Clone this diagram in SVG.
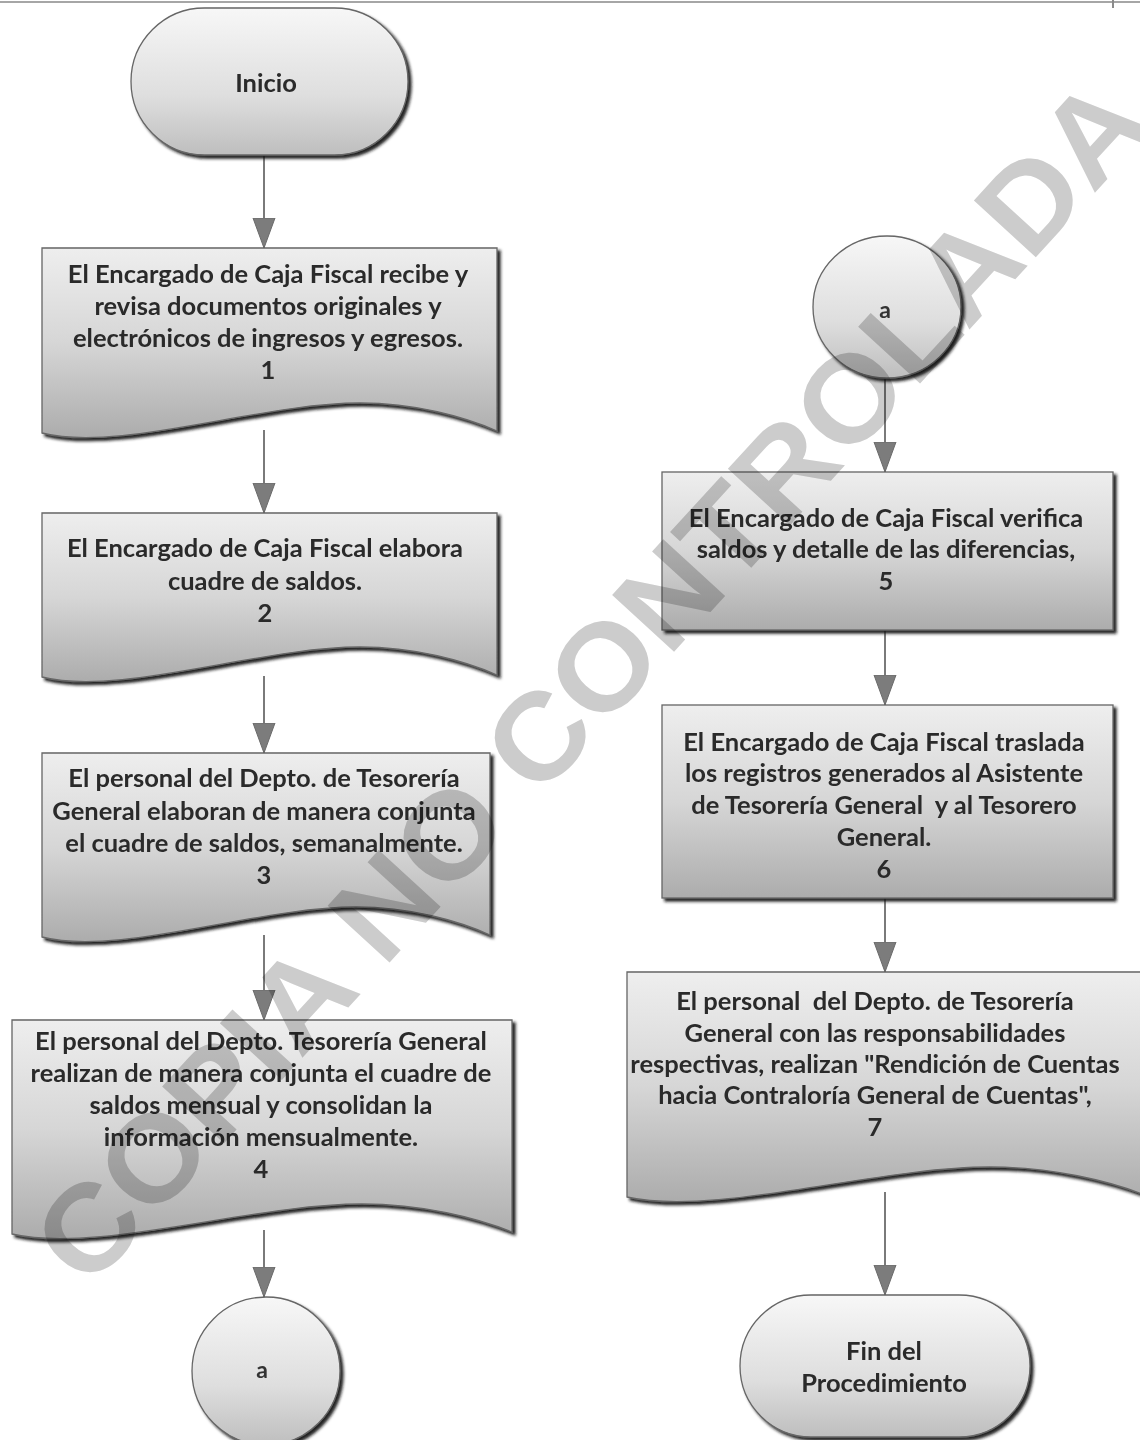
<svg xmlns="http://www.w3.org/2000/svg" width="1140" height="1440" viewBox="0 0 1140 1440">
  <defs>
    <style>
      .shape { stroke: #666666; stroke-width: 1.3; filter: url(#shadow); }
      .doc { fill: url(#gBox); }
      .proc { fill: url(#gBox); }
      .term { fill: url(#gTerm); }
      .conn { fill: url(#gTerm); }
      .lbl { font-family: "Lato", "Liberation Sans", sans-serif; font-weight: 700; font-size: 25.5px; fill: #2a2a2a; text-anchor: middle; white-space: pre; }
      .small { font-family: "Lato", "Liberation Sans", sans-serif; font-weight: 700; font-size: 23px; fill: #333333; text-anchor: middle; }
      .edge { stroke: #7a7a7a; stroke-width: 2; fill: none; marker-end: url(#arrow); }
      .wm { font-family: "Liberation Sans", "DejaVu Sans", sans-serif; font-weight: 700; font-size: 122px; fill: #cccccc; text-anchor: middle; mix-blend-mode: multiply; }
    </style>
    <linearGradient id="gBox" x1="0" y1="0" x2="0" y2="1">
      <stop offset="0" stop-color="#eeeeee"/>
      <stop offset="0.5" stop-color="#d6d6d6"/>
      <stop offset="1" stop-color="#acacac"/>
    </linearGradient>
    <linearGradient id="gTerm" x1="0" y1="0" x2="0" y2="1">
      <stop offset="0" stop-color="#f7f7f7"/>
      <stop offset="0.6" stop-color="#dedede"/>
      <stop offset="1" stop-color="#bebebe"/>
    </linearGradient>
    <filter id="shadow" x="-5%" y="-5%" width="115%" height="120%">
      <feGaussianBlur in="SourceAlpha" stdDeviation="1.6"/>
      <feOffset dx="3" dy="3" result="off"/>
      <feFlood flood-color="#151515" flood-opacity="0.95"/>
      <feComposite in2="off" operator="in"/>
      <feMerge>
        <feMergeNode/>
        <feMergeNode in="SourceGraphic"/>
      </feMerge>
    </filter>
    <marker id="arrow" markerUnits="userSpaceOnUse" viewBox="0 -12 31 24" refX="30" refY="0" markerWidth="31" markerHeight="24" orient="auto">
      <path d="M0,-11 L30,0 L0,11 Z" fill="#7c7c7c" stroke="#6a6a6a" stroke-width="1"/>
    </marker>
  </defs>

  <rect x="0" y="0" width="1140" height="1440" fill="#ffffff"/>
  <!-- page frame line -->
  <line x1="0" y1="2" x2="1140" y2="2" stroke="#a6a6a6" stroke-width="2"/>
  <line x1="1113" y1="0" x2="1113" y2="8" stroke="#8a8a8a" stroke-width="2"/>

  <!-- connectors -->
  <g id="connectors">
    <line class="edge" x1="264" y1="155" x2="264" y2="248"/>
    <line class="edge" x1="264" y1="430" x2="264" y2="513"/>
    <line class="edge" x1="264" y1="676" x2="264" y2="753"/>
    <line class="edge" x1="264" y1="935" x2="264" y2="1020"/>
    <line class="edge" x1="264" y1="1230" x2="264" y2="1297"/>
    <line class="edge" x1="885" y1="377" x2="885" y2="472"/>
    <line class="edge" x1="885" y1="630" x2="885" y2="705"/>
    <line class="edge" x1="885" y1="898" x2="885" y2="972"/>
    <line class="edge" x1="885" y1="1192" x2="885" y2="1295"/>
  </g>

  <!-- start terminator -->
  <g id="inicio">
    <rect class="shape term" x="131" y="8" width="277" height="147" rx="73.5" ry="73.5"/>
    <text class="lbl" x="266" y="92">Inicio</text>
  </g>

  <!-- step 1: document -->
  <g id="paso-1">
    <path class="shape doc" d="M42,248 H497 V431 C465,417 415,403 360,403 C260,403 119,453 42,433 Z"/>
    <text class="lbl" x="268" y="283">El Encargado de Caja Fiscal recibe y</text>
    <text class="lbl" x="268" y="315">revisa documentos originales y</text>
    <text class="lbl" x="268" y="347">electrónicos de ingresos y egresos.</text>
    <text class="lbl" x="268" y="379">1</text>
  </g>

  <!-- step 2: document -->
  <g id="paso-2">
    <path class="shape doc" d="M42,513 H497 V675 C465,661 415,647 360,647 C260,647 119,697 42,677 Z"/>
    <text class="lbl" x="265" y="557">El Encargado de Caja Fiscal elabora</text>
    <text class="lbl" x="265" y="590">cuadre de saldos.</text>
    <text class="lbl" x="265" y="622">2</text>
  </g>

  <!-- step 3: document -->
  <g id="paso-3">
    <path class="shape doc" d="M42,753 H490 V935 C459,921 410,907 356,907 C257,907 118,957 42,937 Z"/>
    <text class="lbl" x="264" y="787">El personal del Depto. de Tesorería</text>
    <text class="lbl" x="264" y="820">General elaboran de manera conjunta</text>
    <text class="lbl" x="264" y="852">el cuadre de saldos, semanalmente.</text>
    <text class="lbl" x="264" y="884">3</text>
  </g>

  <!-- step 4: document -->
  <g id="paso-4">
    <path class="shape doc" d="M12,1020 H512 V1232 C477,1218 422,1204 362,1204 C252,1204 97,1254 12,1234 Z"/>
    <text class="lbl" x="261" y="1050">El personal del Depto. Tesorería General</text>
    <text class="lbl" x="261" y="1082">realizan de manera conjunta el cuadre de</text>
    <text class="lbl" x="261" y="1114">saldos mensual y consolidan la</text>
    <text class="lbl" x="261" y="1146">información mensualmente.</text>
    <text class="lbl" x="261" y="1178">4</text>
  </g>

  <!-- off-page connector (left) -->
  <g id="conector-a-salida">
    <ellipse class="shape conn" cx="266" cy="1371" rx="74" ry="74"/>
    <text class="small" x="262" y="1378">a</text>
  </g>

  <!-- off-page connector (right) -->
  <g id="conector-a-entrada">
    <ellipse class="shape conn" cx="887" cy="307" rx="74" ry="71"/>
    <text class="small" x="885" y="318">a</text>
  </g>

  <!-- step 5: process -->
  <g id="paso-5">
    <rect class="shape proc" x="662" y="472" width="451" height="158"/>
    <text class="lbl" x="886" y="527">El Encargado de Caja Fiscal verifica</text>
    <text class="lbl" x="886" y="558">saldos y detalle de las diferencias,</text>
    <text class="lbl" x="886" y="590">5</text>
  </g>

  <!-- step 6: process -->
  <g id="paso-6">
    <rect class="shape proc" x="662" y="705" width="451" height="193"/>
    <text class="lbl" x="884" y="751">El Encargado de Caja Fiscal traslada</text>
    <text class="lbl" x="884" y="782">los registros generados al Asistente</text>
    <text class="lbl" x="884" y="814">de Tesorería General  y al Tesorero</text>
    <text class="lbl" x="884" y="846">General.</text>
    <text class="lbl" x="884" y="878">6</text>
  </g>

  <!-- step 7: document -->
  <g id="paso-7">
    <path class="shape doc" d="M627,972 H1145 V1195 C1109,1181 1052,1167 990,1167 C876,1167 715,1217 627,1197 Z"/>
    <text class="lbl" x="875" y="1010">El personal  del Depto. de Tesorería</text>
    <text class="lbl" x="875" y="1042">General con las responsabilidades</text>
    <text class="lbl" x="875" y="1073">respectivas, realizan "Rendición de Cuentas</text>
    <text class="lbl" x="875" y="1104">hacia Contraloría General de Cuentas",</text>
    <text class="lbl" x="875" y="1136">7</text>
  </g>

  <!-- end terminator -->
  <g id="fin">
    <rect class="shape term" x="740" y="1295" width="290" height="142" rx="71" ry="71"/>
    <text class="lbl" x="884" y="1360">Fin del</text>
    <text class="lbl" x="884" y="1392">Procedimiento</text>
  </g>

  <!-- watermark -->
  <text class="wm" x="590" y="723" textLength="1580" lengthAdjust="spacingAndGlyphs" transform="rotate(-47.5 590 680)">COPIA NO CONTROLADA</text>
</svg>
